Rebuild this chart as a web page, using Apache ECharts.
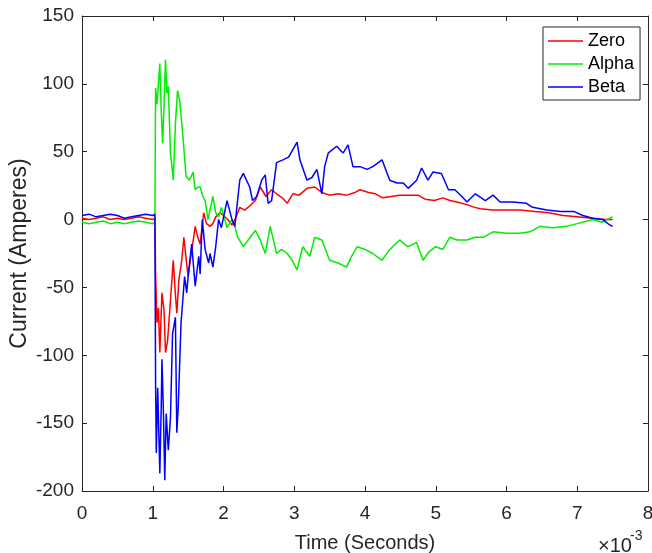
<!DOCTYPE html>
<html><head><meta charset="utf-8">
<script src="https://cdn.jsdelivr.net/npm/echarts@6/dist/echarts.min.js"></script>
<style>html,body{margin:0;padding:0;background:#fff}#c{width:652px;height:553px}</style>
</head><body><div id="c"></div>
<script>
// Time values in milliseconds (axis labelled x10^-3 seconds)
const xTicks = [0,1,2,3,4,5,6,7,8];
const yTicks = [-200,-150,-100,-50,0,50,100,150];

const zeroT = [0,0.1,0.2,0.3,0.4,0.5,0.6,0.7,0.8,0.9,1.0,1.03,1.04,1.06,1.08,1.1,1.13,1.16,1.18,1.21,1.25,1.29,1.32,1.34,1.37,1.41,1.44,1.47,1.5,1.53,1.56,1.6,1.63,1.67,1.72,1.76,1.81,1.85,1.89,1.95,2.0,2.06,2.12,2.18,2.23,2.3,2.37,2.45,2.52,2.6,2.68,2.75,2.83,2.9,2.98,3.07,3.18,3.29,3.39,3.5,3.62,3.74,3.86,3.93,4.05,4.15,4.25,4.37,4.49,4.62,4.75,4.85,4.98,5.1,5.2,5.3,5.44,5.55,5.63,5.8,6.0,6.19,6.4,6.6,6.8,7.0,7.2,7.4,7.5];
const zeroV = [1,0,1,2,0,1,0,1,2,1,0,1,-40,-76,-65,-98,-54,-67,-98,-89,-60,-30,-55,-69,-44,-30,-13,-28,-42,-30,-20,-5,-12,-18,5,-3,-5,-3,2,5,3,0,-4,2,9,7,10,14,24,17,22,19,16,12,19,18,23,24,20,18,19,18,20,22,20,19,16,17,18,18,18,15,14,16,14,13,11,9,8,7,7,7,6,5,3,2,1,0,0];

const alphaT = [0,0.1,0.2,0.3,0.4,0.5,0.6,0.7,0.8,0.9,1.0,1.03,1.04,1.06,1.08,1.1,1.12,1.14,1.16,1.18,1.2,1.22,1.25,1.27,1.29,1.32,1.35,1.38,1.43,1.47,1.52,1.57,1.6,1.64,1.67,1.71,1.74,1.78,1.81,1.85,1.89,1.93,1.97,2.05,2.12,2.16,2.2,2.28,2.35,2.45,2.52,2.59,2.66,2.75,2.82,2.9,2.97,3.04,3.12,3.22,3.29,3.39,3.5,3.62,3.74,3.8,3.89,4.0,4.11,4.24,4.35,4.49,4.6,4.73,4.82,4.9,5.0,5.1,5.2,5.3,5.44,5.56,5.68,5.81,6.0,6.19,6.33,6.47,6.65,6.85,7.0,7.22,7.35,7.5];
const alphaV = [-2,-3,-2,-1,-3,-2,-3,-2,-1,-2,-3,-2,97,85,100,115,80,56,85,118,93,98,49,40,29,70,95,88,59,32,29,35,22,24,24,17,14,0,7,17,5,2,9,-6,0,-5,-13,-20,-15,-8,-15,-25,-5,-25,-22,-25,-30,-37,-20,-27,-13,-15,-30,-32,-35,-28,-20,-22,-25,-30,-22,-15,-20,-17,-30,-24,-20,-22,-13,-15,-15,-13,-13,-9,-10,-10,-9,-5,-6,-5,-3,0,-2,2];

const betaT = [0,0.1,0.2,0.3,0.4,0.5,0.6,0.7,0.8,0.9,1.0,1.03,1.04,1.05,1.07,1.1,1.12,1.13,1.15,1.17,1.19,1.22,1.25,1.28,1.32,1.34,1.36,1.4,1.45,1.48,1.5,1.55,1.6,1.65,1.67,1.7,1.74,1.79,1.81,1.85,1.89,1.93,1.97,2.05,2.12,2.16,2.23,2.28,2.37,2.41,2.47,2.54,2.59,2.63,2.68,2.75,2.84,2.92,3.04,3.08,3.18,3.25,3.32,3.39,3.43,3.48,3.6,3.69,3.76,3.83,3.93,4.03,4.11,4.24,4.35,4.45,4.54,4.61,4.73,4.8,4.89,4.96,5.08,5.18,5.27,5.37,5.44,5.56,5.7,5.81,5.91,6.09,6.28,6.37,6.57,6.76,6.95,7.08,7.22,7.36,7.46,7.5];
const betaV = [3,4,2,3,4,3,1,2,3,4,3,4,-120,-172,-124,-187,-138,-103,-140,-192,-143,-170,-146,-84,-72,-157,-138,-76,-42,-54,-42,-18,-49,-27,-40,0,-22,-32,-25,-35,-20,0,-6,14,0,-5,29,34,24,14,17,29,33,12,14,42,44,46,57,44,29,31,37,19,39,49,54,49,55,39,39,37,39,44,29,27,27,23,29,38,29,35,34,22,22,17,13,19,14,18,13,13,12,9,7,6,6,3,1,0,-4,-5];

const names = ['Zero','Alpha','Beta'];
const colors = ['#ff0000','#00ee00','#0000ff'];

const zip = (t, v) => t.map((x, i) => [x, v[i]]);
const font = '"Liberation Sans", Arial, Helvetica, sans-serif';
const axisColor = '#262626';

const chart = echarts.init(document.getElementById('c'), null, {renderer: 'canvas'});
const baseX = {
  type: 'value', min: 0, max: 8, interval: 1,
  axisLine: {show: true, onZero: false, lineStyle: {color: axisColor, width: 1}},
  axisTick: {show: true, inside: true, length: 5, lineStyle: {color: axisColor}},
  splitLine: {show: false}
};
const baseY = {
  type: 'value', min: -200, max: 150, interval: 50,
  axisLine: {show: true, onZero: false, lineStyle: {color: axisColor, width: 1}},
  axisTick: {show: true, inside: true, length: 5, lineStyle: {color: axisColor}},
  splitLine: {show: false}
};
chart.setOption({
  animation: false,
  backgroundColor: '#fff',
  grid: {left: 82, right: 4, top: 16, bottom: 62, containLabel: false, outerBoundsMode: 'none'},
  xAxis: [
    Object.assign({}, baseX, {
      position: 'bottom',
      name: 'Time (Seconds)', nameLocation: 'middle', nameGap: 42, nameMoveOverlap: false,
      nameTextStyle: {fontFamily: font, fontSize: 20, color: axisColor},
      axisLabel: {show: true, margin: 13, fontFamily: font, fontSize: 19, color: axisColor,
        formatter: v => xTicks.includes(v) ? String(v) : ''}
    }),
    Object.assign({}, baseX, {position: 'top', axisLabel: {show: false}})
  ],
  yAxis: [
    Object.assign({}, baseY, {
      position: 'left',
      name: 'Current (Amperes)', nameLocation: 'middle', nameGap: 51, nameRotate: 90, nameMoveOverlap: false,
      nameTextStyle: {fontFamily: font, fontSize: 23, color: axisColor},
      axisLabel: {show: true, margin: 8, fontFamily: font, fontSize: 19, color: axisColor,
        formatter: v => yTicks.includes(v) ? String(v) : ''}
    }),
    Object.assign({}, baseY, {position: 'right', axisLabel: {show: false}})
  ],
  legend: {
    data: names, orient: 'vertical', left: 543, top: 27,
    icon: 'rect', itemWidth: 35, itemHeight: 1.3, itemGap: 5,
    padding: [5, 6, 4, 5],
    borderColor: axisColor, borderWidth: 1, backgroundColor: '#fff',
    textStyle: {fontFamily: font, fontSize: 18, color: '#000'}
  },
  graphic: [
    {type: 'text', left: 598, top: 536, style: {text: '×10', fontFamily: font, fontSize: 20, fill: axisColor}},
    {type: 'text', left: 630, top: 529, style: {text: '-3', fontFamily: font, fontSize: 14, fill: axisColor}}
  ],
  series: [
    {name: names[0], type: 'line', symbol: 'none', data: zip(zeroT, zeroV), lineStyle: {color: colors[0], width: 1.5}, itemStyle: {color: colors[0]}},
    {name: names[1], type: 'line', symbol: 'none', data: zip(alphaT, alphaV), lineStyle: {color: colors[1], width: 1.5}, itemStyle: {color: colors[1]}},
    {name: names[2], type: 'line', symbol: 'none', data: zip(betaT, betaV), lineStyle: {color: colors[2], width: 1.5}, itemStyle: {color: colors[2]}}
  ]
});
</script></body></html>
